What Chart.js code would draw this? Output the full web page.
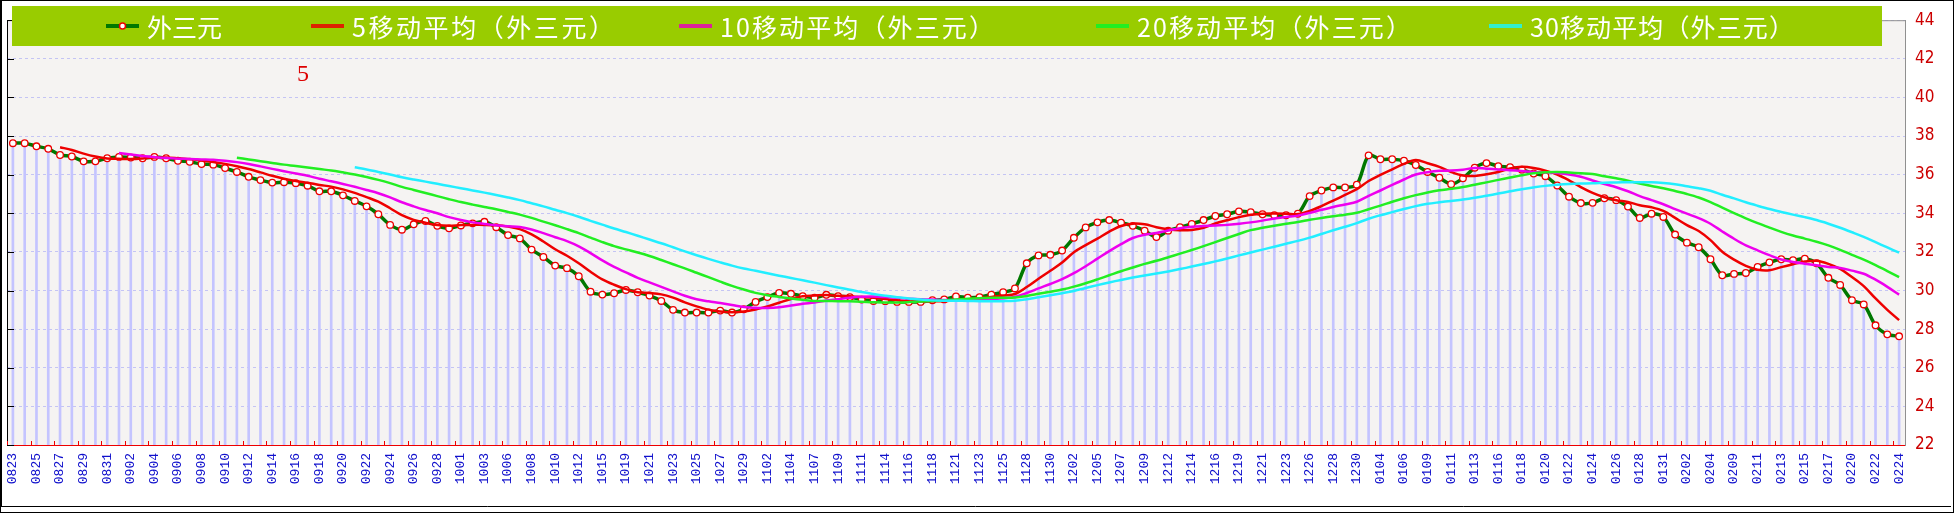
<!DOCTYPE html>
<html><head><meta charset="utf-8">
<script src="https://cdn.jsdelivr.net/npm/chart.js@4.4.1/dist/chart.umd.min.js"></script>
<style>html,body{margin:0;padding:0;background:#fff;}canvas{display:block;}</style>
</head><body>
<canvas id="c" width="1954" height="513"></canvas>
<script>
const dates = ["0823","0824","0825","0826","0827","0828","0829","0830","0831","0901",
"0902","0903","0904","0905","0906","0907","0908","0909","0910","0911",
"0912","0913","0914","0915","0916","0917","0918","0919","0920","0921",
"0922","0923","0924","0925","0926","0927","0928","0929","1001","1002",
"1003","1005","1006","1007","1008","1009","1010","1011","1012","1014",
"1015","1017","1019","1020","1021","1022","1023","1024","1025","1026",
"1027","1028","1029","1031","1102","1103","1104","1105","1107","1108",
"1109","1110","1111","1112","1114","1115","1116","1117","1118","1119",
"1121","1122","1123","1124","1125","1126","1128","1129","1130","1201",
"1202","1203","1205","1206","1207","1208","1209","1210","1212","1213",
"1214","1215","1216","1217","1219","1220","1221","1222","1223","1224",
"1226","1227","1228","1229","1230","0102","0104","0105","0106","0107",
"0109","0110","0111","0112","0113","0114","0116","0117","0118","0119",
"0120","0121","0122","0123","0124","0125","0126","0127","0128","0129",
"0131","0201","0202","0203","0204","0207","0209","0210","0211","0212",
"0213","0214","0215","0216","0217","0218","0220","0221","0222","0223",
"0224"];

const price = [37.63,37.63,37.47,37.34,37.02,36.94,36.69,36.69,36.85,36.92,
36.89,36.85,36.92,36.85,36.72,36.67,36.55,36.52,36.34,36.14,
35.89,35.72,35.59,35.61,35.56,35.43,35.14,35.14,34.93,34.64,
34.36,33.95,33.40,33.15,33.43,33.60,33.35,33.22,33.37,33.48,
33.56,33.28,32.87,32.70,32.12,31.74,31.29,31.16,30.74,29.94,
29.79,29.86,30.03,29.91,29.74,29.46,29.00,28.86,28.86,28.86,
28.96,28.86,29.03,29.41,29.66,29.88,29.83,29.71,29.63,29.78,
29.71,29.66,29.53,29.46,29.45,29.41,29.41,29.41,29.50,29.54,
29.69,29.63,29.66,29.79,29.91,30.11,31.41,31.82,31.85,32.07,
32.73,33.27,33.53,33.65,33.51,33.35,33.10,32.77,33.10,33.28,
33.45,33.65,33.86,33.95,34.10,34.06,33.95,33.90,33.90,33.98,
34.89,35.18,35.34,35.34,35.48,37.00,36.80,36.80,36.72,36.50,
36.14,35.84,35.51,35.81,36.36,36.60,36.44,36.39,36.26,36.06,
35.92,35.44,34.86,34.53,34.54,34.78,34.68,34.35,33.76,33.98,
33.81,32.90,32.48,32.24,31.62,30.79,30.86,30.91,31.22,31.46,
31.62,31.57,31.65,31.41,30.66,30.29,29.50,29.28,28.20,27.73,
27.63];

const ma5 = [null,null,null,null,37.42,37.28,37.09,36.94,36.84,36.82,
36.81,36.84,36.89,36.89,36.85,36.80,36.74,36.66,36.56,36.44,
36.29,36.12,35.94,35.79,35.67,35.58,35.47,35.38,35.24,35.06,
34.84,34.60,34.26,33.90,33.66,33.51,33.39,33.35,33.39,33.40,
33.40,33.38,33.31,33.18,32.91,32.54,32.14,31.80,31.41,30.97,
30.58,30.30,30.07,29.91,29.87,29.80,29.63,29.39,29.18,29.01,
28.91,28.88,28.91,29.02,29.18,29.37,29.56,29.70,29.74,29.77,
29.73,29.70,29.66,29.63,29.56,29.50,29.45,29.43,29.44,29.45,
29.51,29.55,29.60,29.66,29.74,29.82,30.18,30.61,31.02,31.45,
31.98,32.35,32.69,33.05,33.34,33.46,33.43,33.28,33.17,33.12,
33.14,33.25,33.47,33.64,33.80,33.92,33.98,33.99,33.98,33.96,
34.12,34.37,34.66,34.95,35.25,35.67,35.99,36.28,36.56,36.76,
36.59,36.40,36.14,35.96,35.93,36.02,36.14,36.32,36.41,36.35,
36.21,36.01,35.71,35.36,35.06,34.83,34.68,34.58,34.42,34.31,
34.12,33.76,33.39,33.08,32.61,32.01,31.60,31.28,31.08,31.05,
31.21,31.36,31.50,31.54,31.38,31.12,30.70,30.23,29.59,29.00,
28.47];

const ma10 = [null,null,null,null,null,null,null,null,null,37.12,
37.04,36.97,36.91,36.86,36.83,36.81,36.79,36.77,36.72,36.65,
36.55,36.43,36.30,36.18,36.06,35.94,35.79,35.66,35.52,35.37,
35.21,35.04,34.82,34.57,34.36,34.17,34.00,33.80,33.65,33.53,
33.45,33.38,33.33,33.29,33.16,32.97,32.76,32.56,32.29,31.94,
31.56,31.22,30.94,30.66,30.42,30.19,29.96,29.73,29.55,29.44,
29.35,29.25,29.15,29.10,29.10,29.14,29.22,29.31,29.38,29.48,
29.55,29.63,29.68,29.69,29.66,29.62,29.58,29.55,29.53,29.51,
29.51,29.50,29.52,29.55,29.60,29.67,29.87,30.11,30.34,30.59,
30.90,31.26,31.65,32.04,32.40,32.72,32.89,32.98,33.11,33.23,
33.30,33.34,33.37,33.40,33.46,33.53,33.62,33.73,33.81,33.88,
34.02,34.18,34.33,34.46,34.60,34.90,35.18,35.47,35.75,36.01,
36.13,36.20,36.21,36.26,36.35,36.31,36.27,36.23,36.19,36.14,
36.12,36.08,36.01,35.89,35.70,35.52,35.35,35.14,34.89,34.68,
34.47,34.22,33.98,33.75,33.46,33.06,32.68,32.34,32.08,31.83,
31.61,31.48,31.39,31.31,31.22,31.17,31.03,30.87,30.56,30.19,
29.79];

const ma20 = [null,null,null,null,null,null,null,null,null,null,
null,null,null,null,null,null,null,null,null,36.88,
36.79,36.70,36.61,36.52,36.45,36.37,36.29,36.22,36.12,36.01,
35.88,35.73,35.56,35.37,35.21,35.05,34.89,34.73,34.58,34.45,
34.33,34.21,34.07,33.93,33.76,33.57,33.38,33.18,32.97,32.74,
32.51,32.30,32.13,31.97,31.79,31.58,31.36,31.15,30.92,30.69,
30.46,30.24,30.05,29.88,29.76,29.67,29.59,29.52,29.46,29.46,
29.45,29.44,29.42,29.39,29.38,29.38,29.40,29.43,29.46,29.49,
29.53,29.57,29.60,29.62,29.63,29.64,29.72,29.83,29.94,30.05,
30.20,30.38,30.58,30.79,31.00,31.19,31.38,31.54,31.72,31.91,
32.10,32.30,32.51,32.72,32.93,33.13,33.25,33.36,33.46,33.55,
33.66,33.76,33.85,33.93,34.03,34.21,34.40,34.60,34.78,34.94,
35.08,35.19,35.27,35.36,35.48,35.60,35.73,35.85,35.97,36.07,
36.12,36.14,36.11,36.07,36.03,35.92,35.81,35.69,35.54,35.41,
35.30,35.15,35.00,34.82,34.58,34.29,34.01,33.74,33.49,33.26,
33.04,32.85,32.69,32.53,32.34,32.11,31.85,31.60,31.32,31.01,
30.70];

const ma30 = [null,null,null,null,null,null,null,null,null,null,
null,null,null,null,null,null,null,null,null,null,
null,null,null,null,null,null,null,null,null,36.38,
36.27,36.14,36.01,35.87,35.75,35.64,35.53,35.41,35.30,35.18,
35.07,34.95,34.82,34.68,34.52,34.36,34.18,34.01,33.82,33.61,
33.41,33.21,33.03,32.84,32.64,32.45,32.24,32.03,31.83,31.64,
31.46,31.29,31.14,31.02,30.89,30.77,30.65,30.53,30.41,30.28,
30.16,30.04,29.92,29.82,29.73,29.65,29.59,29.53,29.49,29.47,
29.47,29.46,29.45,29.45,29.45,29.47,29.55,29.65,29.75,29.86,
29.98,30.13,30.28,30.42,30.55,30.67,30.78,30.88,30.99,31.11,
31.24,31.37,31.51,31.66,31.82,31.97,32.12,32.27,32.42,32.57,
32.74,32.93,33.12,33.30,33.49,33.72,33.90,34.06,34.22,34.37,
34.49,34.57,34.64,34.71,34.80,34.91,35.02,35.14,35.25,35.34,
35.42,35.48,35.52,35.54,35.55,35.58,35.60,35.61,35.61,35.61,
35.57,35.50,35.40,35.30,35.17,34.96,34.77,34.57,34.39,34.22,
34.07,33.93,33.80,33.65,33.46,33.25,33.02,32.78,32.51,32.23,
31.96];

const seriesNames = ["外三元","5移动平均（外三元）","10移动平均（外三元）","20移动平均（外三元）","30移动平均（外三元）"];
const seriesColors = ["#007800","#ee0000","#ee00ee","#22ee22","#22eeff"];
const legendColors = ["#007800","#dd2200","#dd2299","#22ee22","#33eecc"];
const yMin = 22, yMax = 44, yStep = 2;
const annotationText = "5";

const legendX = [106, 311, 679, 1096, 1489];
const legendTextW = [77, 262, 274, 274, 264];

const framePlugin = {
  id: 'frame',
  beforeDraw(chart) {
    const {ctx, chartArea: a} = chart;
    ctx.save();
    ctx.fillStyle = '#ffffff';
    ctx.fillRect(0, 0, chart.width, chart.height);
    ctx.fillStyle = '#f5f3f2';
    ctx.fillRect(a.left, a.top, a.right - a.left, a.bottom - a.top);
    ctx.restore();
  },
  afterDraw(chart) {
    const {ctx, chartArea: a} = chart;
    const xs = chart.scales.x, ys = chart.scales.y;
    ctx.save();
    ctx.lineWidth = 1;
    ctx.strokeStyle = '#909090';
    ctx.beginPath();
    ctx.moveTo(a.left, a.top + 0.5); ctx.lineTo(a.right, a.top + 0.5);
    ctx.stroke();
    ctx.strokeStyle = '#000000';
    ctx.beginPath();
    ctx.moveTo(a.left + 0.5, a.top); ctx.lineTo(a.left + 0.5, a.bottom);
    ctx.stroke();
    ys.ticks.forEach(t => {
      const y = Math.round(ys.getPixelForValue(t.value)) + 0.5;
      ctx.beginPath(); ctx.moveTo(a.left, y); ctx.lineTo(a.left + 7, y); ctx.stroke();
    });
    const band = xs.getPixelForValue(1) - xs.getPixelForValue(0);
    ctx.strokeStyle = '#ee0000';
    for (let i = 0; i < dates.length; i += 2) {
      const x = Math.round(xs.getPixelForValue(i) - band / 2) + 0.5;
      ctx.beginPath(); ctx.moveTo(x, a.bottom); ctx.lineTo(x, a.bottom - 4); ctx.stroke();
    }
    ctx.strokeStyle = '#000000';
    ctx.strokeRect(0.5, 0.5, chart.width - 1, chart.height - 1);
    ctx.beginPath(); ctx.moveTo(0, 506.5); ctx.lineTo(chart.width - 3, 506.5); ctx.stroke();
    ctx.beginPath(); ctx.moveTo(1.5, 0); ctx.lineTo(1.5, 506); ctx.stroke();

    ctx.fillStyle = '#99cc00';
    ctx.fillRect(12, 6, 1870, 40);
    const ly = 26;
    ctx.font = '25px "Noto Sans CJK SC", sans-serif';
    ctx.textBaseline = 'middle';
    seriesNames.forEach((name, k) => {
      const x0 = legendX[k];
      ctx.strokeStyle = legendColors[k];
      ctx.lineWidth = 4;
      ctx.beginPath(); ctx.moveTo(x0, ly); ctx.lineTo(x0 + 33, ly); ctx.stroke();
      if (k === 0) {
        ctx.lineWidth = 1.5;
        ctx.fillStyle = '#ffffff';
        ctx.strokeStyle = '#ee0000';
        ctx.beginPath(); ctx.arc(x0 + 16.5, ly, 3, 0, Math.PI * 2); ctx.fill(); ctx.stroke();
      }
      ctx.fillStyle = '#ffffff';
      ctx.letterSpacing = '0px';
      const w = ctx.measureText(name).width;
      const n = Array.from(name).length;
      if (legendTextW[k] > w + 2 && n > 1) {
        ctx.letterSpacing = ((legendTextW[k] - w) / (n - 1)).toFixed(2) + 'px';
      }
      ctx.fillText(name, x0 + 41, ly + 1);
      ctx.letterSpacing = '0px';
    });
    ctx.fillStyle = '#dd0000';
    ctx.font = '24px "Liberation Serif", serif';
    ctx.textBaseline = 'middle';
    ctx.fillText(annotationText, 297, 75);
    ctx.restore();
  }
};

const lineBase = {type: 'line', fill: false, pointRadius: 0, borderWidth: 2.5, tension: 0.35};

new Chart(document.getElementById('c'), {
  type: 'line',
  data: {
    labels: dates,
    datasets: [
      Object.assign({}, lineBase, {label: seriesNames[4], data: ma30, borderColor: seriesColors[4], order: 1}),
      Object.assign({}, lineBase, {label: seriesNames[3], data: ma20, borderColor: seriesColors[3], order: 2}),
      Object.assign({}, lineBase, {label: seriesNames[2], data: ma10, borderColor: seriesColors[2], order: 3}),
      Object.assign({}, lineBase, {label: seriesNames[1], data: ma5, borderColor: seriesColors[1], order: 4}),
      Object.assign({}, lineBase, {label: seriesNames[0], data: price, borderColor: seriesColors[0], borderWidth: 3.5,
        pointRadius: 3.3, pointBackgroundColor: '#ffffff', pointBorderColor: '#ee0000', pointBorderWidth: 1.3, tension: 0.3, order: 5}),
      {type: 'bar', label: 'drop', data: price, backgroundColor: '#c4c4ff', borderWidth: 0,
        barThickness: 2, maxBarThickness: 2, barPercentage: 0.17, categoryPercentage: 1, order: 10}
    ]
  },
  options: {
    responsive: false,
    animation: false,
    events: [],
    layout: {padding: {left: 7, top: 4, right: 0, bottom: 0}},
    plugins: {legend: {display: false}, tooltip: {enabled: false}},
    scales: {
      x: {
        type: 'category',
        offset: true,
        grid: {display: false, drawTicks: false},
        border: {display: true, color: '#ee0000', width: 1},
        ticks: {
          autoSkip: false, minRotation: 90, maxRotation: 90, padding: 8,
          color: '#1010cc', font: {family: '"Liberation Mono", monospace', size: 13},
          callback: function (v, i) { return i % 2 === 0 ? this.getLabelForValue(v) : ''; }
        },
        afterFit: (s) => { s.height = 68; }
      },
      y: {
        position: 'right',
        min: yMin, max: yMax,
        grid: {color: '#c4c4f4', drawTicks: false, lineWidth: 1},
        border: {display: true, color: '#909090', dash: [3, 3]},
        ticks: {stepSize: yStep, padding: 10, color: '#cc0000',
          font: {family: '"Liberation Sans Narrow", "DejaVu Sans Condensed", sans-serif', size: 17}},
        afterFit: (s) => { s.width = 49; }
      }
    }
  },
  plugins: [framePlugin]
});
</script>
</body></html>
